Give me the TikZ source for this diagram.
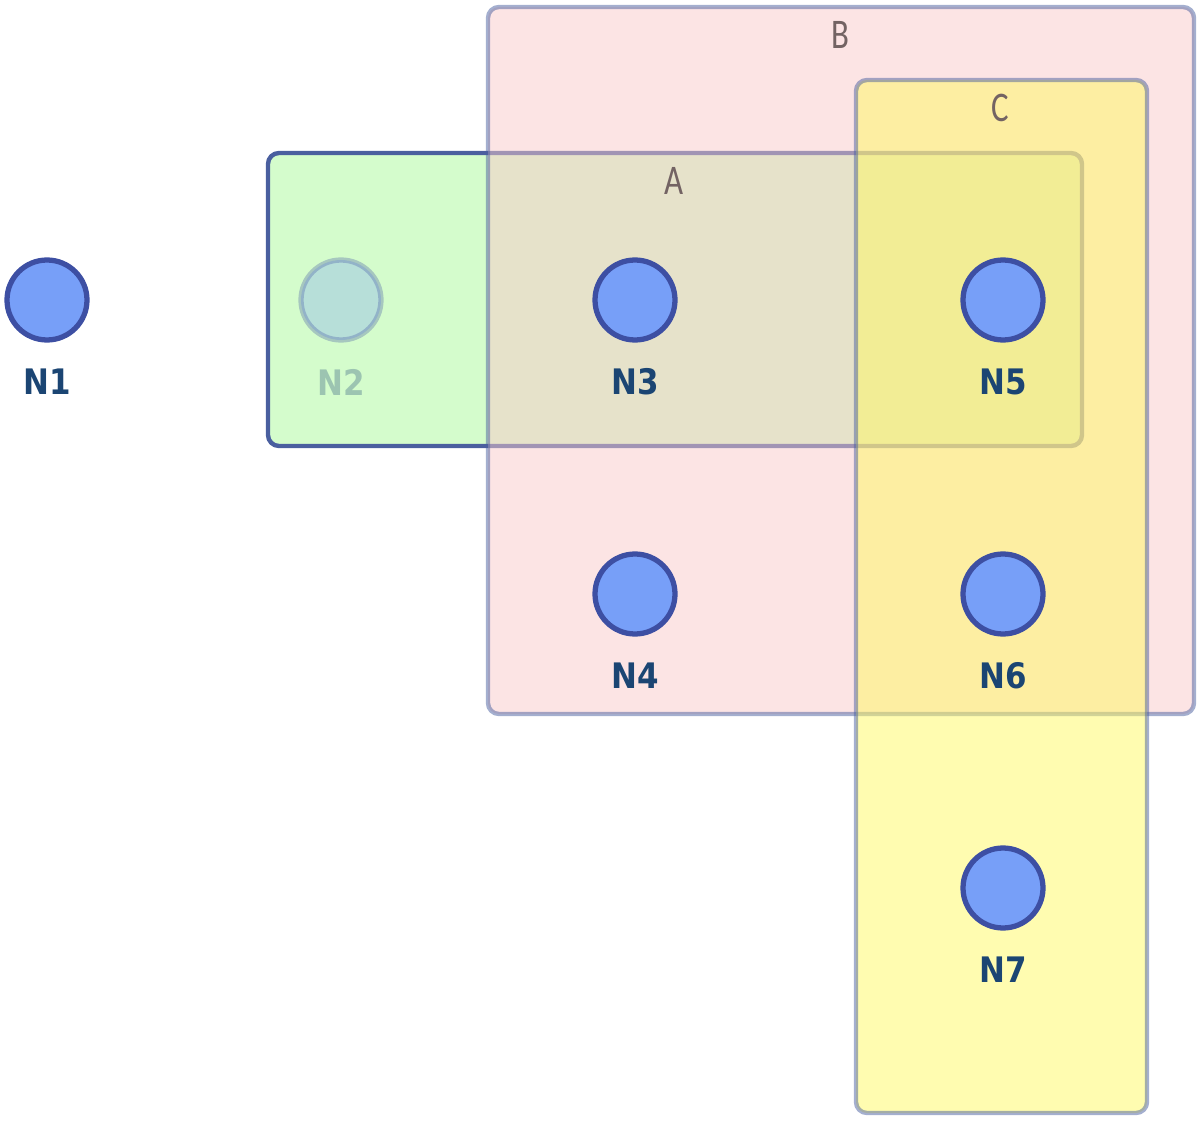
\documentclass[tikz,border=0pt]{standalone}
\usepackage{fontspec}
\newfontfamily\vertexfont{DejaVu Sans}[FakeStretch=0.88]
\newfontfamily\groupfont{Carlito}[FakeStretch=0.78]
\definecolor{vertexfill}{HTML}{779FF8}
\definecolor{vertexline}{HTML}{3D4FA3}
\definecolor{labelblue}{HTML}{1B4573}
\definecolor{groupline}{HTML}{4A5F9F}
\definecolor{grouptext}{HTML}{736363}
\definecolor{fillA}{HTML}{D4FCCC}
\definecolor{fillB}{HTML}{F9C9C9}
\definecolor{fillC}{HTML}{FFF961}

\begin{document}
\begin{tikzpicture}[x=0.02cm, y=-0.02cm,
	vertex/.style={circle, draw=vertexline, fill=vertexfill, line width=3pt, minimum size=1.6cm, inner sep=0pt},
	vertexlabel/.style={text=labelblue, font=\vertexfont\bfseries\fontsize{20}{24}\selectfont},
	group/.style={draw=groupline, line width=2.5pt, rounded corners=0.22cm},
	grouplabel/.style={text=grouptext, font=\groupfont\fontsize{24}{28}\selectfont}]
			\useasboundingbox (0,0) rectangle (1200,1121);
			% groups
			\draw[group, fill=fillA] (268,153) rectangle (1082,446);
			\draw[group, fill=fillB, opacity=.5] (488,7) rectangle (1194,714);
			\draw[group, fill=fillC, opacity=.5] (856,80) rectangle (1147,1113);
			\node[grouplabel] (labelA) at (674,181) {A};
			\node[grouplabel] (labelB) at (840,35) {B};
			\node[grouplabel] (labelC) at (1000,108) {C};
			% the faded vertex inside group A
			\node[vertex, opacity=.3] (n2) at (341,300) {};
			\node[vertexlabel, opacity=.3] (n2-label) at (341,382) {N2};
			% vertices
			\foreach \name/\txt/\x/\y in {n1/N1/47/300, n3/N3/635/300, n4/N4/635/594, n5/N5/1003/300, n6/N6/1003/594, n7/N7/1003/888}{
				\node[vertex] (\name) at (\x,\y) {};
				\node[vertexlabel] (\name-label) at (\x,\y+82) {\txt};
			}
			\end{tikzpicture}
\end{document}
